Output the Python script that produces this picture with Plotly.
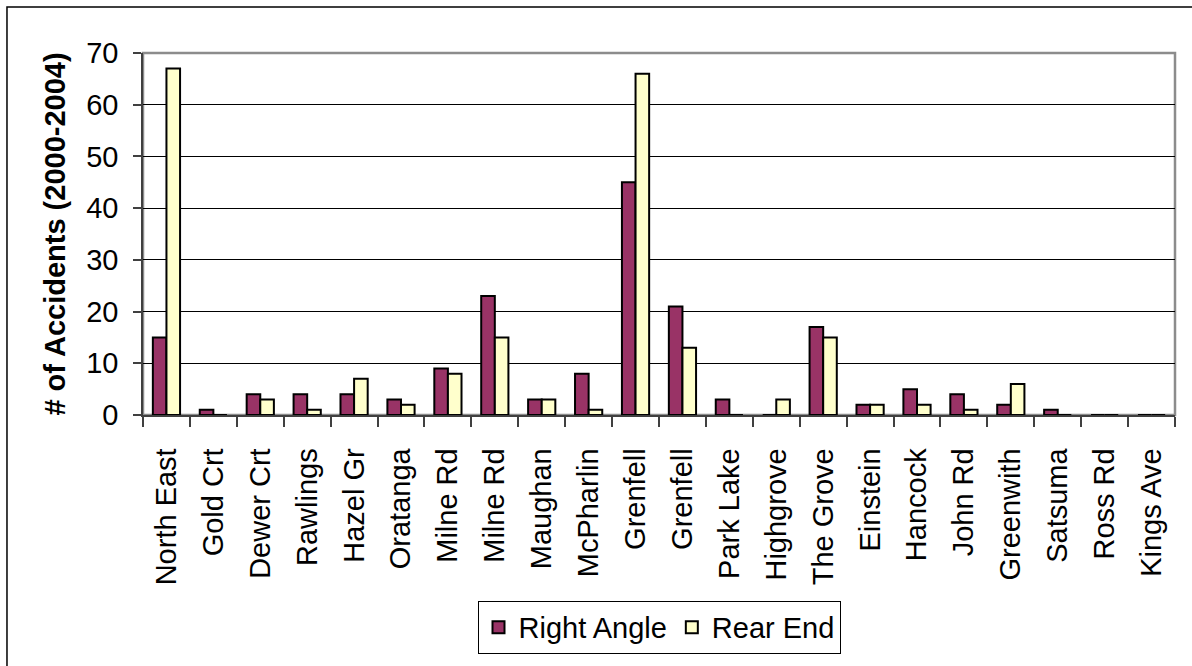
import plotly.graph_objects as go

categories = ["North East", "Gold Crt", "Dewer Crt", "Rawlings", "Hazel Gr", "Oratanga",
              "Milne Rd", "Milne Rd", "Maughan", "McPharlin", "Grenfell", "Grenfell",
              "Park Lake", "Highgrove", "The Grove", "Einstein", "Hancock", "John Rd",
              "Greenwith", "Satsuma", "Ross Rd", "Kings Ave"]
right_angle = [15, 1, 4, 4, 4, 3, 9, 23, 3, 8, 45, 21, 3, 0, 17, 2, 5, 4, 2, 1, 0, 0]
rear_end = [67, 0, 3, 1, 7, 2, 8, 15, 3, 1, 66, 13, 0, 3, 15, 2, 2, 1, 6, 0, 0, 0]
y_ticks = [0, 10, 20, 30, 40, 50, 60, 70]

FONT = "Liberation Sans, Arial, sans-serif"
idx = list(range(len(categories)))

fig = go.Figure()
fig.add_trace(go.Bar(x=idx, y=right_angle, name="Right Angle",
                     marker=dict(color="#993366", line=dict(color="black", width=2))))
fig.add_trace(go.Bar(x=idx, y=rear_end, name="Rear End",
                     marker=dict(color="#FFFFCC", line=dict(color="black", width=2))))

fig.update_layout(
    width=1192, height=666,
    margin=dict(l=143, r=17, t=53, b=243),
    paper_bgcolor="white", plot_bgcolor="white",
    barmode="group", bargap=0.42, bargroupgap=0,
    font=dict(family=FONT, size=29, color="black"),
    showlegend=True,
    legend=dict(orientation="h", x=0.5, xanchor="center", y=-0.5865, yanchor="middle",
                bordercolor="black", borderwidth=1, font=dict(size=29),
                itemsizing="constant", tracegroupgap=0),
    shapes=[
        dict(type="rect", xref="paper", yref="paper", x0=-0.1318, x1=1.08,
             y0=-0.8, y1=1.127, line=dict(color="black", width=1.5), layer="below"),
        dict(type="rect", xref="paper", yref="paper", x0=0, x1=1, y0=0, y1=1,
             line=dict(color="#8c8c8c", width=2.5), layer="below"),
    ],
)

fig.update_xaxes(
    range=[-0.5, len(categories) - 0.5],
    tickmode="array", tickvals=idx, ticktext=categories,
    tickangle=-90, ticks="outside", ticklen=20, tickcolor="rgba(0,0,0,0)",
    tickfont=dict(family=FONT, size=29, color="black"),
    showline=True, linecolor="#404040", linewidth=1.5,
    showgrid=False, zeroline=False,
    minor=dict(tickmode="linear", tick0=-0.5, dtick=1, ticks="outside",
               ticklen=10, tickcolor="#404040", tickwidth=1.5, showgrid=False),
)
fig.update_yaxes(
    range=[0, 70], tickmode="array", tickvals=y_ticks,
    ticks="outside", ticklen=8, tickcolor="#404040", tickwidth=1.5,
    ticklabelstandoff=9,
    tickfont=dict(family=FONT, size=29, color="black"),
    showline=True, linecolor="#404040", linewidth=1.5,
    showgrid=True, gridcolor="black", gridwidth=1, zeroline=False,
    title=dict(text="<b># of Accidents (2000-2004)</b>",
               font=dict(family=FONT, size=29, color="black"), standoff=12),
)

fig.write_html("out.html", config={"displayModeBar": False},
               post_script="document.body.style.margin='0';document.body.style.overflow='hidden';")
